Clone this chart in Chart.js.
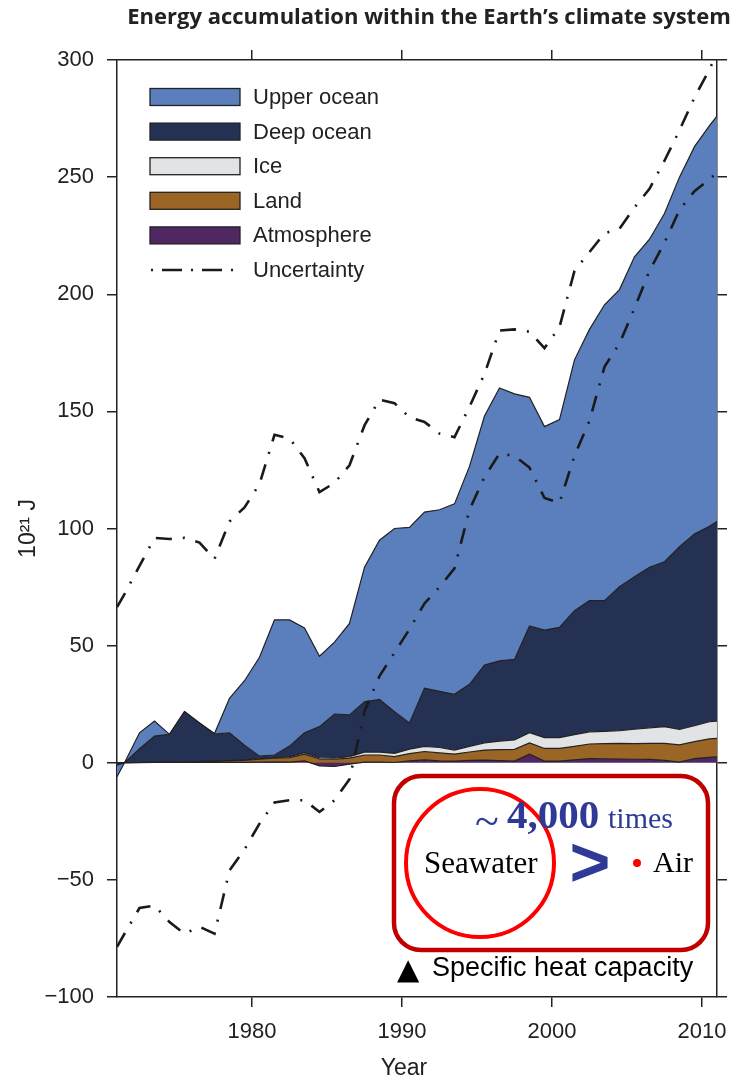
<!DOCTYPE html>
<html>
<head>
<meta charset="utf-8">
<script src="https://cdn.jsdelivr.net/npm/chart.js@4.4.1/dist/chart.umd.min.js"></script>
<style>
  body { margin: 0; background: #fff; }
</style>
</head>
<body>
<canvas id="energyChart" width="739" height="1081"></canvas>
<script>
// Mid-year samples, plus the clipped ends of the record at 1971 and 2011
const years = [1971, 1971.5, 1972.5, 1973.5, 1974.5, 1975.5, 1976.5, 1977.5, 1978.5, 1979.5,
    1980.5, 1981.5, 1982.5, 1983.5, 1984.5, 1985.5, 1986.5, 1987.5, 1988.5, 1989.5,
    1990.5, 1991.5, 1992.5, 1993.5, 1994.5, 1995.5, 1996.5, 1997.5, 1998.5, 1999.5,
    2000.5, 2001.5, 2002.5, 2003.5, 2004.5, 2005.5, 2006.5, 2007.5, 2008.5, 2009.5,
    2010.5, 2011];

// Energy content of each component (10^21 J), bottom of the stack first
const atmosphere = [0, 0, 0, 0.1, 0.1, 0.1, 0.1, 0.2, 0.2, 0.2,
    0.3, 0.4, 0.3, 0.8, -1.3, -1.6, -0.6, 0.3, 0.3, 0.1,
    0.8, 1.2, 0.8, 0.7, 1.0, 1.1, 0.9, 0.7, 3.7, 0.7,
    0.7, 1.2, 1.8, 1.7, 1.6, 1.5, 1.4, 1.0, 0.3, 1.8,
    2.3, 2.5];
const land = [0, 0, 0.1, 0.1, 0.2, 0.3, 0.4, 0.4, 0.6, 0.8,
    1.2, 1.6, 1.9, 2.9, 1.6, 1.5, 2.0, 3.0, 3.0, 2.5,
    3.1, 3.6, 3.4, 3.0, 3.6, 4.3, 4.7, 5.0, 4.8, 5.4,
    5.4, 5.8, 6.2, 6.5, 6.7, 6.7, 6.9, 7.3, 7.3, 7.2,
    7.9, 7.9];
const ice = [0, 0, 0, 0, 0, 0, 0, 0.1, 0.1, 0.2,
    0.3, 0.2, 0.4, 0.6, 0.5, 0.5, 0.6, 1.2, 1.2, 1.4,
    1.9, 2.2, 2.3, 1.7, 2.4, 3.1, 3.6, 4.0, 4.3, 4.6,
    4.6, 5.0, 5.2, 5.2, 5.4, 6.1, 6.6, 7.1, 6.6, 6.8,
    7.3, 7.4];
const deepOcean = [-1, 0, 5.9, 11.2, 11.8, 21.4, 16.5, 11.5, 11.9, 6.3,
    1.0, 1.1, 4.5, 8.5, 13.3, 18.8, 17.8, 21.5, 22.5, 17.8,
    11.2, 24.8, 24.0, 23.8, 26.5, 33.2, 34.3, 34.4, 45.6, 45.9,
    47.1, 52.9, 56.0, 55.8, 61.4, 65.1, 68.5, 70.4, 78.0, 81.8,
    83.5, 85.2];
const upperOcean = [-5, 0, 6.8, 6.4, 0, 0, 0, 0.3, 14.7, 27.5,
    42.2, 57.7, 53.9, 44.7, 30.1, 30.7, 39.1, 57.5, 68.0, 78.2,
    83.5, 75.2, 77.5, 81.3, 93.0, 106.3, 116.5, 113.4, 97.6, 86.9,
    88.7, 107.1, 115.8, 126.3, 126.9, 136.6, 140.1, 148.7, 157.8, 165.4,
    171.0, 173.0];

// Uncertainty envelope around the total
const uncertaintyHigh = [66.5, 72, 84, 96, 95.5, 96, 94, 87, 103, 109,
    119, 140, 138.5, 130, 115.5, 119.5, 127, 144, 155, 153.5,
    147.5, 145.5, 140.5, 139, 152, 166, 184.5, 185, 184, 177,
    186, 210, 218, 226, 228, 237, 245, 257, 270, 284,
    296, 303];
const uncertaintyLow = [-78.6, -73, -62, -61, -68, -73, -70, -73, -46, -37,
    -26, -17, -16, -16, -21, -16, -7, 22, 37, 47,
    57, 68, 75, 83, 108, 122, 132, 131, 126, 113,
    111, 131, 146, 169, 179, 194, 210, 222, 236, 244,
    249, 252];

const xTickYears = [1980, 1990, 2000, 2010];

const seriesNames = ['Atmosphere', 'Land', 'Ice', 'Deep ocean', 'Upper ocean'];
const seriesValues = [atmosphere, land, ice, deepOcean, upperOcean];
const seriesColors = ['#4f2762', '#9b6526', '#e2e3e5', '#243152', '#5b7ebd'];

const tickFont = '"Liberation Sans", sans-serif';
const inkColor = '#222';

// Stack the components, positives and negatives separately (like the original)
function stackTops(seriesList) {
    const pos = years.map(() => 0);
    const neg = years.map(() => 0);
    return seriesList.map(values => values.map((v, i) => {
        if (v >= 0) {
            pos[i] += v;
            return pos[i];
        }
        neg[i] += v;
        return neg[i];
    }));
}

const tops = stackTops(seriesValues);

const areaDatasets = seriesNames.map((name, k) => ({
    label: name,
    data: years.map((yr, i) => ({ x: yr, y: tops[k][i] })),
    backgroundColor: seriesColors[k],
    borderColor: inkColor,
    borderWidth: 1.2,
    pointRadius: 0,
    tension: 0,
    fill: k === 0 ? 'origin' : '-1',
    order: 0
}));

function uncertaintyDataset(label, values) {
    return {
        label: label,
        data: years.map((yr, i) => ({ x: yr, y: values[i] })),
        borderColor: '#1a1a1a',
        borderWidth: 2.6,
        borderDash: [16, 11, 2, 11],
        pointRadius: 0,
        tension: 0,
        fill: false,
        order: -1
    };
}

// Legend, title and the heat capacity note are drawn on top of the chart
const decorPlugin = {
    id: 'decor',
    afterDraw(chart) {
        const ctx = chart.ctx;
        ctx.save();

        // Title
        ctx.fillStyle = inkColor;
        ctx.font = 'bold 22px "Open Sans", sans-serif';
        ctx.textAlign = 'center';
        ctx.textBaseline = 'middle';
        ctx.fillText('Energy accumulation within the Earth\u2019s climate system', 429, 18);

        // x axis title
        ctx.font = '23px ' + tickFont;
        ctx.fillText('Year', 404, 1069);

        // Legend
        const legendRows = [
            { label: 'Upper ocean', color: seriesColors[4] },
            { label: 'Deep ocean', color: seriesColors[3] },
            { label: 'Ice', color: seriesColors[2] },
            { label: 'Land', color: seriesColors[1] },
            { label: 'Atmosphere', color: seriesColors[0] },
            { label: 'Uncertainty', color: null }
        ];
        ctx.textAlign = 'left';
        ctx.font = '22px ' + tickFont;
        legendRows.forEach((row, i) => {
            const cy = 97 + i * 34.6;
            if (row.color) {
                ctx.fillStyle = row.color;
                ctx.fillRect(150, cy - 8.5, 90, 17);
                ctx.strokeStyle = inkColor;
                ctx.lineWidth = 1.3;
                ctx.strokeRect(150, cy - 8.5, 90, 17);
            } else {
                ctx.strokeStyle = '#1a1a1a';
                ctx.lineWidth = 2.6;
                ctx.setLineDash([2, 9, 20, 9]);
                ctx.beginPath();
                ctx.moveTo(151, cy);
                ctx.lineTo(240, cy);
                ctx.stroke();
                ctx.setLineDash([]);
            }
            ctx.fillStyle = inkColor;
            ctx.fillText(row.label, 253, cy + 1);
        });

        // Specific heat capacity note
        ctx.strokeStyle = '#c00000';
        ctx.lineWidth = 4.5;
        ctx.beginPath();
        ctx.roundRect(394, 776, 314, 174, 27);
        ctx.stroke();

        ctx.strokeStyle = '#ff0000';
        ctx.lineWidth = 4;
        ctx.beginPath();
        ctx.arc(480, 863, 74, 0, Math.PI * 2);
        ctx.stroke();

        ctx.textBaseline = 'alphabetic';
        ctx.fillStyle = '#2e3a96';
        ctx.font = '44px "Liberation Serif", serif';
        ctx.fillText('~', 475, 836);
        ctx.font = 'bold 41px "Liberation Serif", serif';
        ctx.fillText('4,000', 507, 828);
        ctx.font = '30px "Liberation Serif", serif';
        ctx.fillText('times', 608, 828);

        ctx.fillStyle = '#000';
        ctx.font = '31px "Liberation Serif", serif';
        ctx.fillText('Seawater', 424, 873);
        ctx.font = '30px "Liberation Serif", serif';
        ctx.fillText('Air', 653, 872);

        ctx.fillStyle = '#2e3a96';
        ctx.font = 'bold 70px "Liberation Sans", sans-serif';
        ctx.textAlign = 'center';
        ctx.fillText('>', 590, 886);

        ctx.fillStyle = '#ff0000';
        ctx.beginPath();
        ctx.arc(637, 863, 4, 0, Math.PI * 2);
        ctx.fill();

        ctx.fillStyle = '#000';
        ctx.textAlign = 'left';
        ctx.font = '29px "DejaVu Sans", sans-serif';
        ctx.fillText('\u25B2', 397, 979);
        ctx.font = '27px "Liberation Sans", sans-serif';
        ctx.fillText('Specific heat capacity', 432, 976);

        ctx.restore();
    }
};

const frameGrid = { drawOnChartArea: false, color: inkColor, lineWidth: 1.5, tickLength: 10 };
const frameBorder = { display: true, color: inkColor, width: 1.5 };

const ctx = document.getElementById('energyChart').getContext('2d');
const energyChart = new Chart(ctx, {
    type: 'line',
    data: {
        datasets: areaDatasets.concat([
            uncertaintyDataset('Uncertainty', uncertaintyHigh),
            uncertaintyDataset('Uncertainty (low)', uncertaintyLow)
        ])
    },
    options: {
        responsive: false,
        animation: false,
        layout: { padding: 0 },
        plugins: {
            legend: { display: false },
            tooltip: { enabled: false }
        },
        scales: {
            x: {
                type: 'linear',
                position: 'bottom',
                min: 1971,
                max: 2011,
                afterBuildTicks: scale => { scale.ticks = xTickYears.map(v => ({ value: v })); },
                afterFit: scale => { scale.height = 84; },
                ticks: {
                    color: inkColor,
                    padding: 12,
                    maxRotation: 0,
                    font: { family: tickFont, size: 22 },
                    callback: v => String(v)
                },
                grid: frameGrid,
                border: frameBorder
            },
            xTop: {
                type: 'linear',
                position: 'top',
                min: 1971,
                max: 2011,
                afterBuildTicks: scale => { scale.ticks = xTickYears.map(v => ({ value: v })); },
                afterFit: scale => { scale.height = 60; },
                ticks: { display: false },
                grid: frameGrid,
                border: frameBorder
            },
            y: {
                position: 'left',
                min: -100,
                max: 300,
                afterFit: scale => { scale.width = 117; },
                ticks: {
                    stepSize: 50,
                    color: inkColor,
                    padding: 13,
                    font: { family: tickFont, size: 22 },
                    callback: v => (v < 0 ? '\u2212' + Math.abs(v) : String(v))
                },
                title: {
                    display: true,
                    text: '10\u00B2\u00B9 J',
                    color: inkColor,
                    font: { family: tickFont, size: 23 },
                    padding: { top: 15, bottom: 0 }
                },
                grid: frameGrid,
                border: frameBorder
            },
            yRight: {
                position: 'right',
                min: -100,
                max: 300,
                afterFit: scale => { scale.width = 13; },
                ticks: { display: false, stepSize: 50 },
                grid: frameGrid,
                border: frameBorder
            }
        }
    },
    plugins: [decorPlugin]
});
</script>
</body>
</html>
